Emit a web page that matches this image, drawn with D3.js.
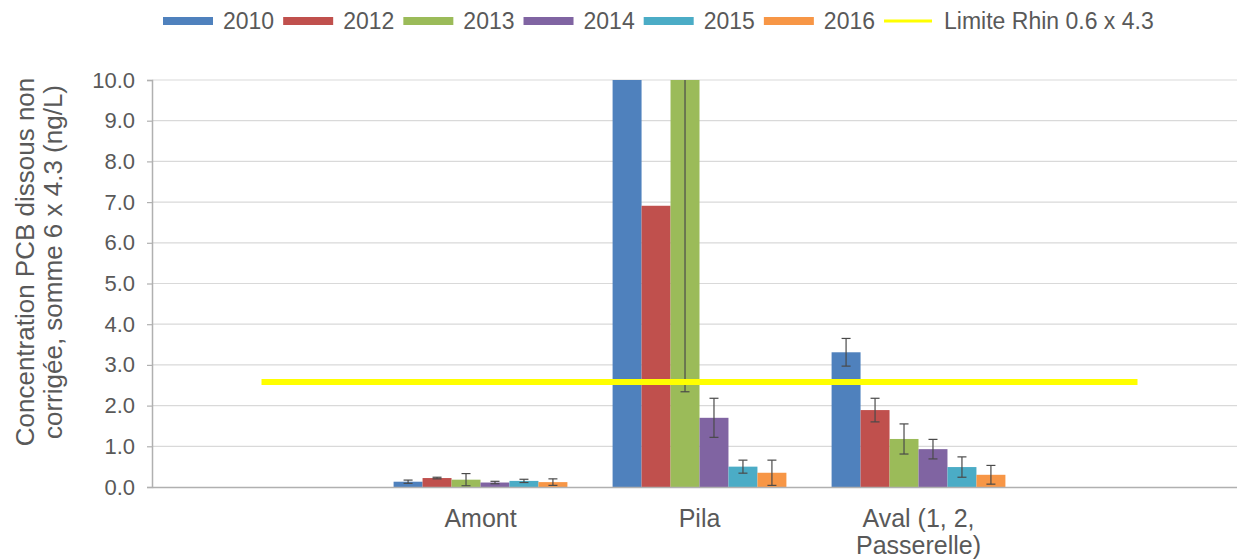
<!DOCTYPE html>
<html>
<head>
<meta charset="utf-8">
<script src="https://cdn.jsdelivr.net/npm/d3@7"></script>
<style>
  html, body { margin: 0; padding: 0; background: #fff; }
  svg { display: block; font-family: "Liberation Sans", Arial, sans-serif; }
</style>
</head>
<body>
<svg id="chart" width="1237" height="559"></svg>
<script>
// ---- Data ----
const categories = ["", "Amont", "Pila", "Aval (1, 2, Passerelle)", " "];
const categoryLines = [[""], ["Amont"], ["Pila"], ["Aval (1, 2,", "Passerelle)"], [""]];
const years = ["2010", "2012", "2013", "2014", "2015", "2016"];
const v2010 = [null, 0.13, 14.0, 3.31, null];
const v2012 = [null, 0.22, 6.91, 1.89, null];
const v2013 = [null, 0.18, 12.0, 1.18, null];
const v2014 = [null, 0.11, 1.70, 0.93, null];
const v2015 = [null, 0.15, 0.50, 0.49, null];
const v2016 = [null, 0.12, 0.35, 0.30, null];
const e2010 = [null, 0.04, 0, 0.34, null];
const e2012 = [null, 0.02, 0, 0.29, null];
const e2013 = [null, 0.15, 9.66, 0.37, null];
const e2014 = [null, 0.03, 0.48, 0.24, null];
const e2015 = [null, 0.04, 0.16, 0.25, null];
const e2016 = [null, 0.08, 0.31, 0.23, null];
const limitName = "Limite Rhin 0.6 x 4.3";
const limitValues = [2.58, 2.58, 2.58, 2.58, 2.58];
const yTicks = [0, 1, 2, 3, 4, 5, 6, 7, 8, 9, 10];
const yTitle = ["Concentration PCB dissous non", "corrigée, somme 6 x 4.3 (ng/L)"];

const seriesValues = [v2010, v2012, v2013, v2014, v2015, v2016];
const seriesErrors = [e2010, e2012, e2013, e2014, e2015, e2016];
const colors = ["#4F81BD", "#C0504D", "#9BBB59", "#8064A2", "#4BACC6", "#F79646"];
const limitColor = "#FFFF00";

// ---- Layout ----
const svg = d3.select("#chart");
const plot = { left: 152, right: 1247, top: 80, bottom: 487 };
const textColor = "#595959";

const x0 = d3.scaleBand().domain(categories).range([plot.left, plot.right]).padding(0);
const x1 = d3.scaleBand().domain(years).range([0, x0.bandwidth()]).paddingInner(0).paddingOuter(0.78);
const y = d3.scaleLinear().domain([0, 10]).range([plot.bottom, plot.top]);

svg.append("defs").append("clipPath").attr("id", "clip")
  .append("rect").attr("x", plot.left).attr("y", plot.top)
  .attr("width", plot.right - plot.left).attr("height", plot.bottom - plot.top);

// gridlines
svg.append("g").selectAll("line").data(yTicks.filter(d => d > 0)).join("line")
  .attr("x1", plot.left).attr("x2", 1237)
  .attr("y1", d => y(d)).attr("y2", d => y(d))
  .attr("stroke", "#d9d9d9").attr("stroke-width", 1.2);

// bars
const gBars = svg.append("g").attr("clip-path", "url(#clip)");
years.forEach((yr, si) => {
  const data = categories.map((c, ci) => ({ c, v: seriesValues[si][ci], e: seriesErrors[si][ci] }))
    .filter(d => d.v !== null);
  gBars.append("g").selectAll("rect").data(data).join("rect")
    .attr("x", d => x0(d.c) + x1(yr))
    .attr("width", x1.bandwidth())
    .attr("y", d => y(d.v))
    .attr("height", d => y(0) - y(d.v))
    .attr("fill", colors[si]);
});

// error bars
const gErr = svg.append("g").attr("clip-path", "url(#clip)")
  .attr("stroke", "#4a4a4a").attr("stroke-width", 1.2);
years.forEach((yr, si) => {
  const data = categories.map((c, ci) => ({ c, v: seriesValues[si][ci], e: seriesErrors[si][ci] }))
    .filter(d => d.v !== null && d.e > 0);
  const g = gErr.append("g");
  const cx = d => x0(d.c) + x1(yr) + x1.bandwidth() / 2;
  g.selectAll("line.v").data(data).join("line").attr("class", "v")
    .attr("x1", cx).attr("x2", cx)
    .attr("y1", d => y(d.v - d.e)).attr("y2", d => y(d.v + d.e));
  g.selectAll("line.t").data(data).join("line").attr("class", "t")
    .attr("x1", d => cx(d) - 4.5).attr("x2", d => cx(d) + 4.5)
    .attr("y1", d => y(d.v + d.e)).attr("y2", d => y(d.v + d.e));
  g.selectAll("line.b").data(data).join("line").attr("class", "b")
    .attr("x1", d => cx(d) - 4.5).attr("x2", d => cx(d) + 4.5)
    .attr("y1", d => y(d.v - d.e)).attr("y2", d => y(d.v - d.e));
});

// limit line
const line = d3.line()
  .x((d, i) => x0(categories[i]) + x0.bandwidth() / 2)
  .y(d => y(d));
svg.append("path").datum(limitValues)
  .attr("d", line).attr("fill", "none")
  .attr("stroke", limitColor).attr("stroke-width", 6);

// y axis
const yAxis = d3.axisLeft(y).tickValues(yTicks).tickFormat(d3.format(".1f"))
  .tickSize(5).tickPadding(12);
const gy = svg.append("g").attr("transform", `translate(${plot.left},0)`).call(yAxis);
gy.select(".domain").attr("stroke", "#b0b0b0").attr("stroke-width", 1.5);
gy.selectAll(".tick line").attr("stroke", "#b0b0b0").attr("stroke-width", 1.2);
gy.selectAll(".tick text").attr("fill", textColor)
  .style("font-size", "22px").style("font-family", "'Liberation Sans', Arial, sans-serif");

// x axis
const xAxis = d3.axisBottom(x0).tickSize(0).tickFormat(() => "");
const gx = svg.append("g").attr("transform", `translate(0,${plot.bottom})`).call(xAxis);
gx.select(".domain").attr("stroke", "#b0b0b0").attr("stroke-width", 1.5);
gx.selectAll(".tick").each(function (d, i) {
  const t = d3.select(this).append("text")
    .attr("fill", textColor).attr("text-anchor", "middle")
    .style("font-size", "25px").style("font-family", "'Liberation Sans', Arial, sans-serif");
  categoryLines[i].forEach((ln, li) => {
    t.append("tspan").attr("x", 0).attr("y", 40 + li * 27).text(ln);
  });
});

// y title
const yt = svg.append("text")
  .attr("transform", `translate(0,262) rotate(-90)`)
  .attr("text-anchor", "middle").attr("fill", textColor)
  .style("font-size", "26px");
yTitle.forEach((ln, i) => {
  yt.append("tspan").attr("x", 0).attr("y", 34 + i * 28).text(ln);
});

// legend
const legend = svg.append("g").attr("transform", "translate(163,21)");
let lx = 0;
const legendItems = years.map((yr, i) => ({ name: yr, color: colors[i], type: "bar" }))
  .concat([{ name: limitName, color: limitColor, type: "line" }]);
legendItems.forEach(it => {
  const g = legend.append("g").attr("transform", `translate(${lx},0)`);
  if (it.type === "bar") {
    g.append("rect").attr("x", 0).attr("y", -4).attr("width", 50).attr("height", 8).attr("fill", it.color);
  } else {
    g.append("line").attr("x1", 0).attr("x2", 48).attr("y1", 0).attr("y2", 0)
      .attr("stroke", it.color).attr("stroke-width", 3);
  }
  const t = g.append("text").attr("x", 60).attr("y", 8).attr("fill", textColor)
    .style("font-size", "23px").text(it.name);
  lx += 60 + t.node().getComputedTextLength() + 9;
});
</script>
</body>
</html>
